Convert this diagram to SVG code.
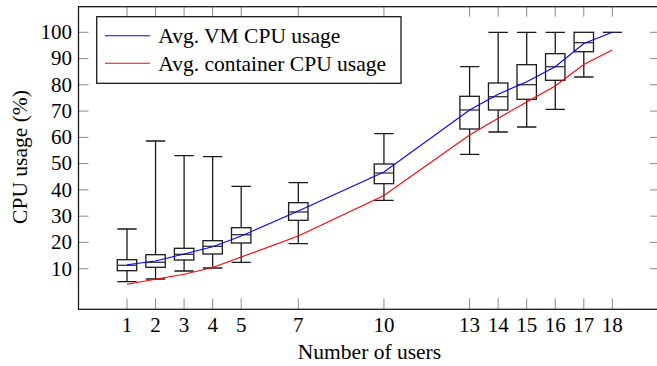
<svg xmlns="http://www.w3.org/2000/svg" width="657" height="366" viewBox="0 0 657 366">
  <style>
    .tick { stroke: #8a8a8a; stroke-width: 1; fill: none; }
    .frame { stroke: #1a1a1a; stroke-width: 1.3; fill: none; }
    .box { stroke: #1a1a1a; stroke-width: 1.3; fill: none; }
    .med { stroke: #333; stroke-width: 1.3; }
    .whisk { stroke: #1a1a1a; stroke-width: 1.3; }
    .vm { stroke: #0000ff; stroke-width: 1.1; fill: none; }
    .ct { stroke: #ff0000; stroke-width: 1.1; fill: none; }
    .txt { font-family: 'Liberation Serif', 'Times New Roman', Times, serif; fill: #000; }
  </style>
  <rect width="657" height="366" fill="#fff"/>

  <!-- tick marks -->
  <g id="ticks" class="tick">
    <!-- y ticks, left and right -->
    <path d="M78.5 268.7h10M78.5 242.4h10M78.5 216.2h10M78.5 189.9h10M78.5 163.6h10M78.5 137.4h10M78.5 111.1h10M78.5 84.8h10M78.5 58.6h10M78.5 32.3h10"/>
    <path d="M650 268.7h10M650 242.4h10M650 216.2h10M650 189.9h10M650 163.6h10M650 137.4h10M650 111.1h10M650 84.8h10M650 58.6h10M650 32.3h10"/>
    <!-- x ticks, bottom and top -->
    <path d="M127 309.3v-11M155.55 309.3v-11M184.1 309.3v-11M212.65 309.3v-11M241.2 309.3v-11M298.3 309.3v-11M383.95 309.3v-11M469.6 309.3v-11M498.15 309.3v-11M526.7 309.3v-11M555.25 309.3v-11M583.8 309.3v-11M612.35 309.3v-11"/>
    <path d="M127 6.7v10M155.55 6.7v10M184.1 6.7v10M212.65 6.7v10M241.2 6.7v10M298.3 6.7v10M383.95 6.7v10M469.6 6.7v10M498.15 6.7v10M526.7 6.7v10M555.25 6.7v10M583.8 6.7v10M612.35 6.7v10"/>
  </g>

  <!-- box plots: whiskers, boxes, medians -->
  <g id="boxes">
    <g id="box-1">
      <path class="whisk" d="M127 229V259.7M127 270.7V281.7M117.3 229h19.4M117.3 281.7h19.4"/>
      <rect class="box" x="117.3" y="259.7" width="19.4" height="11"/>
      <path class="med" d="M117.3 265.3h19.4"/>
    </g>
    <g id="box-2">
      <path class="whisk" d="M155.55 141V254.7M155.55 267.3V279M145.85 141h19.4M145.85 279h19.4"/>
      <rect class="box" x="145.85" y="254.7" width="19.4" height="12.6"/>
      <path class="med" d="M145.85 262.3h19.4"/>
    </g>
    <g id="box-3">
      <path class="whisk" d="M184.1 155.7V248.3M184.1 260V271M174.4 155.7h19.4M174.4 271h19.4"/>
      <rect class="box" x="174.4" y="248.3" width="19.4" height="11.7"/>
      <path class="med" d="M174.4 254.3h19.4"/>
    </g>
    <g id="box-4">
      <path class="whisk" d="M212.65 156.7V240.7M212.65 254V268M202.95 156.7h19.4M202.95 268h19.4"/>
      <rect class="box" x="202.95" y="240.7" width="19.4" height="13.3"/>
      <path class="med" d="M202.95 246.3h19.4"/>
    </g>
    <g id="box-5">
      <path class="whisk" d="M241.2 186.3V227.7M241.2 243V262.3M231.5 186.3h19.4M231.5 262.3h19.4"/>
      <rect class="box" x="231.5" y="227.7" width="19.4" height="15.3"/>
      <path class="med" d="M231.5 234.7h19.4"/>
    </g>
    <g id="box-7">
      <path class="whisk" d="M298.3 182.7V202.7M298.3 220.3V243.7M288.6 182.7h19.4M288.6 243.7h19.4"/>
      <rect class="box" x="288.6" y="202.7" width="19.4" height="17.6"/>
      <path class="med" d="M288.6 212h19.4"/>
    </g>
    <g id="box-10">
      <path class="whisk" d="M383.95 133.7V164M383.95 183.7V200.3M374.25 133.7h19.4M374.25 200.3h19.4"/>
      <rect class="box" x="374.25" y="164" width="19.4" height="19.7"/>
      <path class="med" d="M374.25 173h19.4"/>
    </g>
    <g id="box-13">
      <path class="whisk" d="M469.6 66.7V96.3M469.6 129V154.3M459.9 66.7h19.4M459.9 154.3h19.4"/>
      <rect class="box" x="459.9" y="96.3" width="19.4" height="32.7"/>
      <path class="med" d="M459.9 110h19.4"/>
    </g>
    <g id="box-14">
      <path class="whisk" d="M498.15 32.3V83M498.15 110V132M488.45 32.3h19.4M488.45 132h19.4"/>
      <rect class="box" x="488.45" y="83" width="19.4" height="27"/>
      <path class="med" d="M488.45 96.7h19.4"/>
    </g>
    <g id="box-15">
      <path class="whisk" d="M526.7 32.3V64.7M526.7 99.3V127M517 32.3h19.4M517 127h19.4"/>
      <rect class="box" x="517" y="64.7" width="19.4" height="34.6"/>
      <path class="med" d="M517 84.7h19.4"/>
    </g>
    <g id="box-16">
      <path class="whisk" d="M555.25 32.3V53.7M555.25 80.3V109.3M545.55 32.3h19.4M545.55 109.3h19.4"/>
      <rect class="box" x="545.55" y="53.7" width="19.4" height="26.6"/>
      <path class="med" d="M545.55 66.7h19.4"/>
    </g>
    <g id="box-17">
      <path class="whisk" d="M583.8 51.7V77M574.1 77h19.4"/>
      <rect class="box" x="574.1" y="32.3" width="19.4" height="19.4"/>
      <path class="med" d="M574.1 42.7h19.4"/>
    </g>
    <g id="box-18">
      <path class="whisk" d="M602.65 32.3h19.4"/>
    </g>
  </g>

  <!-- average usage curves -->
  <g id="connectors">
    <polyline class="vm" points="127,264.7 155.55,261 184.1,254 212.65,246.7 241.2,236 298.3,211 383.95,172 469.6,110 498.15,94.3 526.7,81.7 555.25,66.7 583.8,43.5 612.35,32.3"/>
    <polyline class="ct" points="127,284.3 155.55,279.3 184.1,274.3 212.65,267.5 241.2,257 298.3,236 383.95,195.5 469.6,135 498.15,118.3 526.7,102 555.25,86 583.8,64.5 612.35,50"/>
  </g>

  <!-- axis frame -->
  <rect id="frame" class="frame" x="78.5" y="6.7" width="582" height="302.6"/>

  <g class="txt">
    <!-- legend -->
    <g id="legend">
      <rect x="96.7" y="16.7" width="304.3" height="66.6" fill="#fff" stroke="#1a1a1a" stroke-width="1.3"/>
      <path class="vm" d="M105 35.7h45"/>
      <path class="ct" d="M105 63.3h45"/>
      <text x="158.3" y="43.3" font-size="21.5">Avg. VM CPU usage</text>
      <text x="158.3" y="71" font-size="21.5">Avg. container CPU usage</text>
    </g>

    <!-- y tick labels -->
    <g id="y-labels" font-size="21" text-anchor="end">
      <text x="72" y="275.5">10</text>
      <text x="72" y="249.2">20</text>
      <text x="72" y="223">30</text>
      <text x="72" y="196.7">40</text>
      <text x="72" y="170.4">50</text>
      <text x="72" y="144.2">60</text>
      <text x="72" y="117.9">70</text>
      <text x="72" y="91.6">80</text>
      <text x="72" y="65.4">90</text>
      <text x="72" y="39.1">100</text>
    </g>

    <!-- x tick labels -->
    <g id="x-labels" font-size="21" text-anchor="middle">
      <text x="127" y="331.5">1</text>
      <text x="155.55" y="331.5">2</text>
      <text x="184.1" y="331.5">3</text>
      <text x="212.65" y="331.5">4</text>
      <text x="241.2" y="331.5">5</text>
      <text x="298.3" y="331.5">7</text>
      <text x="383.95" y="331.5">10</text>
      <text x="469.6" y="331.5">13</text>
      <text x="498.15" y="331.5">14</text>
      <text x="526.7" y="331.5">15</text>
      <text x="555.25" y="331.5">16</text>
      <text x="583.8" y="331.5">17</text>
      <text x="612.35" y="331.5">18</text>
    </g>

    <!-- axis titles -->
    <text id="x-title" x="369.5" y="359.3" font-size="21.5" text-anchor="middle">Number of users</text>
    <text id="y-title" transform="translate(26.7 157) rotate(-90)" font-size="21.5" text-anchor="middle">CPU usage (%)</text>
  </g>
</svg>
